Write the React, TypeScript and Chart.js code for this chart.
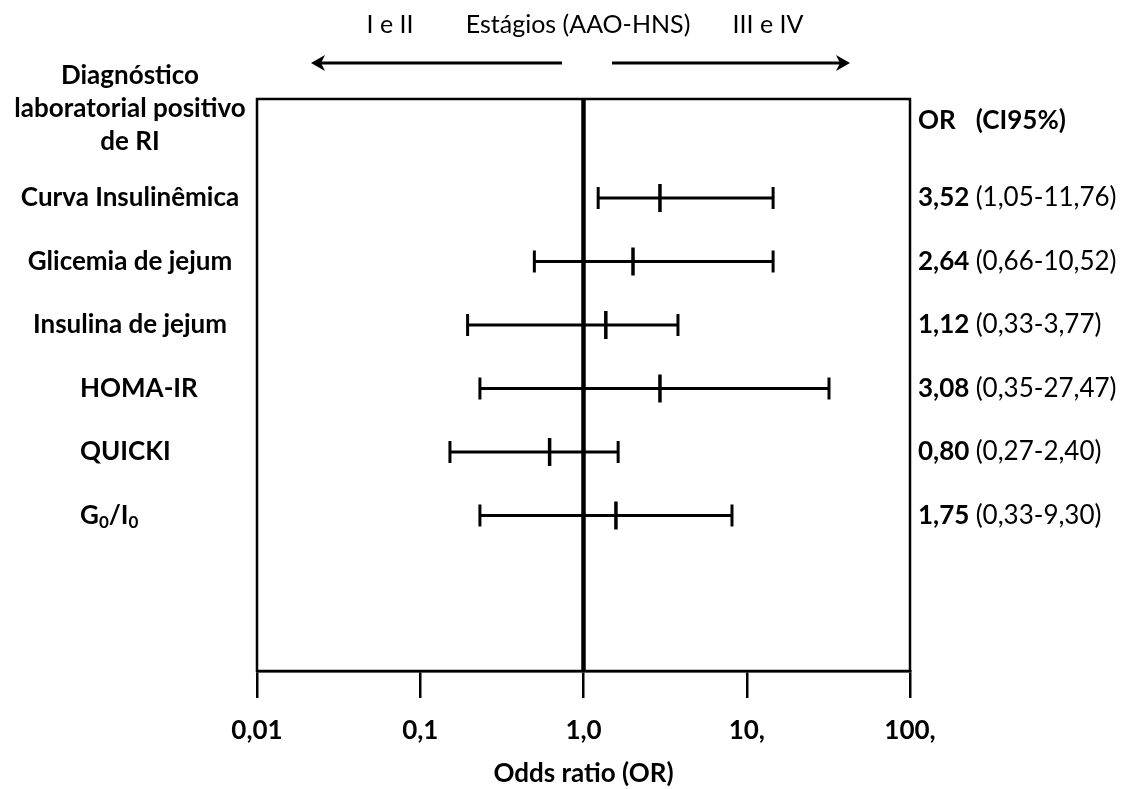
import React, { useEffect, useRef } from "react";
import { Chart, registerables } from "chart.js";

Chart.register(...registerables);

// ---------------- data ----------------
const rowLabels = ["Curva Insulinêmica", "Glicemia de jejum", "Insulina de jejum", "HOMA-IR", "QUICKI", "G_{0}/I_{0}"];
const rowIndex = [1, 2, 3, 4, 5, 6];
// positions of the drawn marks (log OR axis)
const plotOR = [2.94, 2.01, 1.37, 2.94, 0.62, 1.58];
const plotLow = [1.23, 0.5, 0.195, 0.232, 0.152, 0.232];
const plotHigh = [14.5, 14.5, 3.79, 31.9, 1.63, 8.12];
// printed values
const orText = ["3,52", "2,64", "1,12", "3,08", "0,80", "1,75"];
const ciText = ["(1,05-11,76)", "(0,66-10,52)", "(0,33-3,77)", "(0,35-27,47)", "(0,27-2,40)", "(0,33-9,30)"];
const tickValues = [0.01, 0.1, 1, 10, 100];
const tickLabels = ["0,01", "0,1", "1,0", "10,", "100,"];
const headerLeft = ["Diagnóstico", "laboratorial positivo", "de RI"];
const headerRight = ["OR", "(CI95%)"];
const stageLabels = ["I e II", "Estágios (AAO-HNS)", "III e IV"];
const xTitle = "Odds ratio (OR)";
const referenceOR = 1;

const FONT = "Lato, 'Open Sans', sans-serif";
const FS = 26;

function drawRich(ctx: CanvasRenderingContext2D, text: string, x: number, y: number, align: "left" | "center") {
  // supports _{...} subscripts
  const parts: { t: string; sub: boolean }[] = [];
  const re = /_\{([^}]*)\}/g;
  let last = 0;
  let m: RegExpExecArray | null;
  while ((m = re.exec(text))) {
    if (m.index > last) parts.push({ t: text.slice(last, m.index), sub: false });
    parts.push({ t: m[1], sub: true });
    last = m.index + m[0].length;
  }
  if (last < text.length) parts.push({ t: text.slice(last), sub: false });
  const fontFor = (sub: boolean) => `bold ${sub ? 17 : FS}px ${FONT}`;
  let total = 0;
  for (const p of parts) {
    ctx.font = fontFor(p.sub);
    total += ctx.measureText(p.t).width;
  }
  let cx = align === "center" ? x - total / 2 : x;
  ctx.textAlign = "left";
  for (const p of parts) {
    ctx.font = fontFor(p.sub);
    ctx.fillText(p.t, cx, p.sub ? y + 7 : y);
    cx += ctx.measureText(p.t).width;
  }
}

function drawArrow(ctx: CanvasRenderingContext2D, x1: number, x2: number, y: number) {
  const dir = Math.sign(x2 - x1);
  ctx.beginPath();
  ctx.moveTo(x1, y);
  ctx.lineTo(x2 - dir * 4, y);
  ctx.lineWidth = 3;
  ctx.stroke();
  ctx.beginPath();
  ctx.moveTo(x2, y);
  ctx.lineTo(x2 - dir * 14, y - 8);
  ctx.lineTo(x2 - dir * 10, y);
  ctx.lineTo(x2 - dir * 14, y + 8);
  ctx.closePath();
  ctx.fill();
}

const annotate = {
  id: "annotate",
  beforeDraw(chart: any) {
    const { ctx, width, height } = chart;
    ctx.save();
    ctx.fillStyle = "#fff";
    ctx.fillRect(0, 0, width, height);
    ctx.restore();
  },
  beforeDatasetsDraw(chart: any) {
    const { ctx, chartArea: a, scales } = chart;
    const px = scales.x.getPixelForValue(referenceOR);
    ctx.save();
    ctx.strokeStyle = "#000";
    ctx.lineWidth = 4.5;
    ctx.beginPath();
    ctx.moveTo(px, a.top);
    ctx.lineTo(px, a.bottom);
    ctx.stroke();
    ctx.restore();
  },
  afterDraw(chart: any) {
    const { ctx, chartArea: a, scales } = chart;
    const ys = scales.y;
    ctx.save();
    ctx.strokeStyle = "#000";
    ctx.fillStyle = "#000";
    ctx.lineWidth = 2.5;
    ctx.strokeRect(a.left, a.top, a.right - a.left, a.bottom - a.top);

    // stage labels and arrows
    ctx.textBaseline = "middle";
    ctx.textAlign = "center";
    ctx.font = `25px ${FONT}`;
    const stageX = [390, 578, 768];
    stageLabels.forEach((s, i) => ctx.fillText(s, stageX[i], 25));
    drawArrow(ctx, 562, 311, 63);
    drawArrow(ctx, 612, 850, 63);

    // left header
    ctx.font = `bold ${FS}px ${FONT}`;
    headerLeft.forEach((s, i) => ctx.fillText(s, 130, 76 + i * 33));

    // row labels
    rowLabels.forEach((s, i) => {
      const y = ys.getPixelForValue(rowIndex[i]);
      if (i < 3) drawRich(ctx, s, 130, y, "center");
      else drawRich(ctx, s, 80, y, "left");
    });

    // right header + values
    ctx.textAlign = "left";
    ctx.font = `bold ${FS}px ${FONT}`;
    ctx.fillText(headerRight[0], 918, 121);
    const hw = ctx.measureText(headerRight[0]).width;
    ctx.fillText(headerRight[1], 918 + hw + 20, 121);
    orText.forEach((s, i) => {
      const y = ys.getPixelForValue(rowIndex[i]);
      ctx.font = `bold ${FS}px ${FONT}`;
      ctx.fillText(s, 918, y);
      const w = ctx.measureText(s + " ").width;
      ctx.font = `${FS}px ${FONT}`;
      ctx.fillText(ciText[i], 918 + w, y);
    });
    ctx.restore();
  },
};

export default function App() {
  const ref = useRef<HTMLCanvasElement | null>(null);
  useEffect(() => {
    document.body.style.margin = "0";
    const canvas = ref.current;
    if (!canvas) return;
    Chart.defaults.font.family = FONT;

    const lineSets = rowIndex.map((r, i) => ({
      type: "scatter" as const,
      data: [
        { x: plotLow[i], y: r },
        { x: plotHigh[i], y: r },
      ],
      showLine: true,
      borderColor: "#000",
      borderWidth: 3,
      pointRadius: 0,
      pointHoverRadius: 0,
    }));
    const capSet = {
      type: "scatter" as const,
      data: rowIndex.flatMap((r, i) => [
        { x: plotLow[i], y: r },
        { x: plotHigh[i], y: r },
      ]),
      showLine: false,
      pointStyle: "line",
      pointRotation: 90,
      pointRadius: 11,
      pointBorderWidth: 3,
      pointBorderColor: "#000",
      pointBackgroundColor: "#000",
    };
    const orSet = {
      type: "scatter" as const,
      data: rowIndex.map((r, i) => ({ x: plotOR[i], y: r })),
      showLine: false,
      pointStyle: "line",
      pointRotation: 90,
      pointRadius: 14,
      pointBorderWidth: 3.5,
      pointBorderColor: "#000",
      pointBackgroundColor: "#000",
    };

    const chart = new Chart(canvas, {
      type: "scatter",
      data: { datasets: [...lineSets, capSet, orSet] as any },
      options: {
        animation: false,
        responsive: false,
        events: [],
        layout: { padding: { left: 257, right: 211, top: 99, bottom: 0 } },
        plugins: { legend: { display: false }, tooltip: { enabled: false } },
        scales: {
          x: {
            type: "logarithmic",
            min: tickValues[0],
            max: tickValues[tickValues.length - 1],
            afterBuildTicks: (scale: any) => {
              scale.ticks = tickValues.map((v) => ({ value: v }));
            },
            afterFit: (scale: any) => {
              scale.height = 118;
            },
            grid: {
              drawOnChartArea: false,
              drawTicks: true,
              tickLength: 27,
              tickWidth: 2.5,
              tickColor: "#000",
              color: "#000",
              lineWidth: 2.5,
            },
            border: { display: true, color: "#000", width: 2.5 },
            ticks: {
              autoSkip: false,
              maxRotation: 0,
              padding: 17,
              color: "#000",
              font: { size: FS, weight: "bold", family: FONT },
              callback: (_v: any, i: number) => tickLabels[i],
            },
            title: {
              display: true,
              text: xTitle,
              color: "#000",
              font: { size: FS, weight: "bold", family: FONT },
              padding: { top: 11, bottom: 0 },
            },
          },
          y: {
            type: "linear",
            display: false,
            reverse: true,
            min: -0.559,
            max: 8.449,
          },
        },
      },
      plugins: [annotate],
    });
    return () => chart.destroy();
  }, []);
  return (
    <div style={{ width: 1121, height: 789, position: "relative" }}>
      <canvas ref={ref} width={1121} height={789} style={{ display: "block" }} />
    </div>
  );
}
